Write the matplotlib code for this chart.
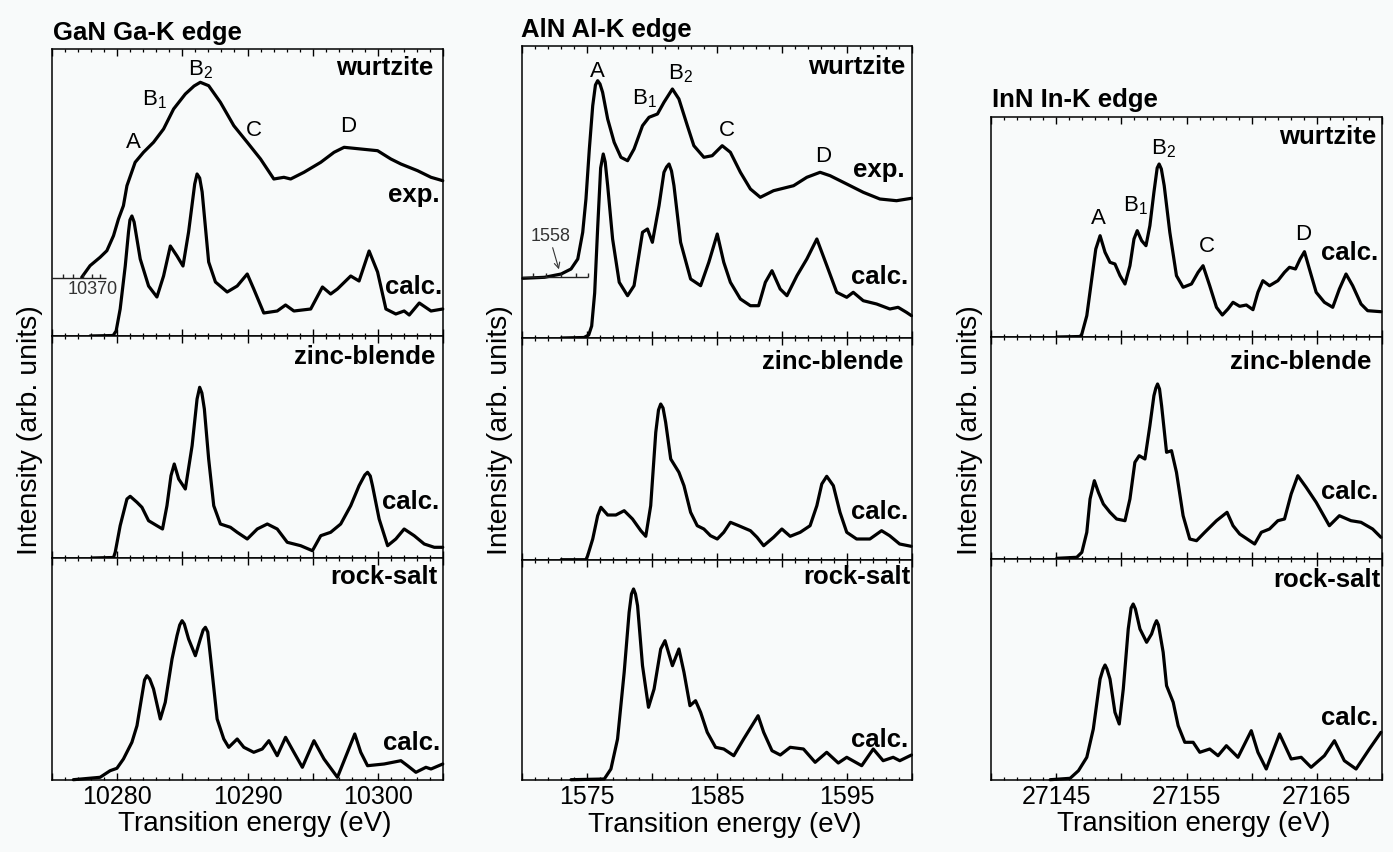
import numpy as np
import matplotlib
matplotlib.use("Agg")
import matplotlib.pyplot as plt

plt.rcParams['font.family'] = ['Liberation Sans', 'DejaVu Sans']
plt.rcParams['mathtext.fontset'] = 'custom'
plt.rcParams['mathtext.rm'] = 'Liberation Sans'
plt.rcParams['mathtext.it'] = 'Liberation Sans:italic'
plt.rcParams['mathtext.bf'] = 'Liberation Sans:bold'

# ---------------- data (energies in eV, intensities in arb. units) ----------------
# GaN Ga-K edge
gan_wz_exp_e = [10277.28, 10277.92, 10278.69, 10279.21, 10279.72, 10280.10, 10280.48, 10280.75,
                10281.38, 10282.02, 10282.79, 10283.56, 10284.33, 10285.23, 10285.90, 10286.38,
                10287.02, 10287.92, 10288.95, 10289.98, 10291.00, 10292.02, 10292.79, 10293.31,
                10294.33, 10295.62, 10296.64, 10297.41, 10298.69, 10299.98, 10301.00, 10301.77,
                10303.05, 10304.08, 10304.98]
gan_wz_exp_i = [58.7, 70.3, 78.7, 85.3, 100.3, 117, 130.3, 150.3,
                173.7, 183.7, 193.7, 207, 227, 242, 250, 253.7,
                250.3, 233.7, 210.3, 193.7, 177, 157, 158.7, 157,
                163.7, 173.7, 183.7, 188.7, 187, 185.3, 177, 172,
                165.3, 158.7, 155.3]
gan_wz_calc_e = [10277.92, 10279.69, 10279.92, 10280.23, 10280.62, 10280.87, 10280.98, 10281.13,
                 10281.30, 10281.77, 10282.41, 10283.05, 10283.56, 10284.08, 10284.59, 10285.05,
                 10285.48, 10285.95, 10286.13, 10286.33, 10286.52, 10287.02, 10287.54, 10288.44,
                 10289.21, 10289.98, 10290.48, 10291.25, 10292.28, 10292.92, 10293.56, 10294.85,
                 10295.75, 10296.38, 10296.90, 10297.92, 10298.56, 10299.33, 10299.98, 10300.62,
                 10301.38, 10302.02, 10302.41, 10303.18, 10304.08, 10304.98]
gan_wz_calc_i = [0, 0.5, 5, 27, 70, 104, 116, 120,
                 114, 77, 50, 39, 60, 90, 80, 70,
                 104, 152, 162, 158, 144, 74, 54, 44,
                 50, 62, 47, 23, 25, 31, 25, 27,
                 49, 42, 47, 60, 55, 85, 64, 27,
                 22, 25, 21, 33, 25, 27]
gan_zb_e = [10278.05, 10279.72, 10279.85, 10280.23, 10280.75, 10281.00, 10281.52, 10281.90,
            10282.41, 10283.05, 10283.48, 10283.82, 10284.13, 10284.38, 10284.72, 10285.23,
            10285.75, 10286.13, 10286.33, 10286.50, 10286.69, 10287.02, 10287.41, 10287.92,
            10288.69, 10289.21, 10289.98, 10290.75, 10291.52, 10292.28, 10293.05, 10294.08,
            10294.98, 10295.62, 10296.38, 10297.15, 10297.92, 10298.56, 10299.00, 10299.21,
            10299.42, 10299.59, 10300.10, 10300.75, 10301.38, 10302.02, 10302.79, 10303.56,
            10304.33, 10304.98]
gan_zb_i = [0, 0.5, 5.7, 32.3, 59, 61.7, 55.7, 50.7,
            37.3, 32.3, 29, 52.3, 82.3, 94, 79, 69,
            112.3, 159, 170.7, 165, 149, 99, 52.3, 34,
            30.7, 25.7, 19, 29, 34, 29, 15.7, 12.3,
            7.3, 22.3, 25.7, 34, 52.3, 72.3, 83, 85.7,
            82, 72.3, 39, 12.3, 19, 29, 22.3, 14,
            10.7, 10.7]
gan_rs_e = [10276.64, 10278.69, 10279.46, 10279.98, 10280.48, 10281.13, 10281.52, 10281.90,
            10282.10, 10282.28, 10282.50, 10282.79, 10283.31, 10283.69, 10284.21, 10284.59,
            10284.80, 10284.98, 10285.15, 10285.48, 10286.00, 10286.38, 10286.60, 10286.77,
            10286.95, 10287.15, 10287.67, 10288.18, 10288.56, 10289.21, 10289.72, 10290.48,
            10291.13, 10291.64, 10292.28, 10292.92, 10293.56, 10294.21, 10295.10, 10295.87,
            10296.90, 10297.67, 10298.23, 10298.69, 10299.21, 10300.48, 10301.77, 10302.28,
            10302.92, 10303.69, 10304.08, 10304.98]
gan_rs_i = [0.3, 2.7, 9.3, 11.7, 21, 37.7, 54.3, 84.3,
            100, 104.3, 101, 91, 61, 77.7, 121, 144.3,
            155, 159.3, 156, 141, 124.3, 141, 150, 152.7,
            148, 124.3, 61, 41, 32.7, 41, 32.7, 27.7,
            31, 39.3, 24.3, 42.7, 27.7, 12.7, 39.3, 21,
            2.7, 27.7, 46, 27.7, 14.3, 16, 19.3, 14.3,
            7.7, 12.7, 11, 16]

# AlN Al-K edge
aln_wz_exp_e = [1570.07, 1571.73, 1573.01, 1573.77, 1574.29, 1574.67, 1574.92, 1575.18, 1575.44,
                1575.65, 1575.82, 1576.00, 1576.20, 1576.59, 1577.09, 1577.61, 1578.12, 1578.62,
                1579.27, 1579.77, 1580.42, 1580.92, 1581.57, 1582.07, 1582.72, 1583.22, 1583.99,
                1584.63, 1585.40, 1586.03, 1586.80, 1587.57, 1588.33, 1589.35, 1590.89, 1591.91,
                1592.93, 1593.70, 1594.98, 1596.25, 1597.53, 1598.81, 1599.96]
aln_wz_exp_i = [59.7, 60.7, 64, 69, 79, 105.7, 139, 189, 232.3,
                253, 257.3, 254, 245.7, 219, 195.7, 180.7, 177.3, 189,
                212.3, 220.7, 224, 235.7, 249, 239, 212.3, 192.3, 180.7,
                182.3, 192.3, 185.7, 165.7, 149, 140.7, 147.3, 152.3, 160.7,
                165.7, 162.3, 154, 145.7, 139, 137.3, 139.7]
aln_wz_calc_e = [1573.01, 1574.77, 1575.13, 1575.36, 1575.59, 1575.82, 1576.05, 1576.25,
                 1576.40, 1576.59, 1576.97, 1577.48, 1578.12, 1578.62, 1579.27, 1579.65,
                 1580.03, 1580.54, 1580.92, 1581.12, 1581.31, 1581.50, 1581.69, 1582.20,
                 1582.97, 1583.74, 1584.37, 1585.02, 1585.52, 1586.03, 1586.80, 1587.57,
                 1588.20, 1588.72, 1589.23, 1589.86, 1590.38, 1591.15, 1591.91, 1592.68,
                 1593.45, 1594.21, 1594.98, 1595.48, 1596.25, 1597.28, 1598.30, 1598.93,
                 1599.57, 1599.96]
aln_wz_calc_i = [0, 0.5, 3, 12, 45, 110, 170, 184,
                 176, 152.3, 99, 55.7, 42.3, 52.3, 105.7, 109,
                 95.7, 132.3, 165.7, 171, 174, 167, 152.3, 95.7,
                 59, 52.3, 75.7, 104, 75.7, 55.7, 39, 32.3,
                 32.3, 55.7, 67.3, 49, 42.3, 62.3, 79, 99,
                 72.3, 45.7, 40.7, 45.7, 37.3, 34, 29, 30.7,
                 25.7, 22.3]
aln_zb_e = [1573.01, 1574.92, 1575.05, 1575.44, 1575.82, 1576.07, 1576.59, 1577.22, 1577.86,
            1578.50, 1579.14, 1579.52, 1579.90, 1580.29, 1580.50, 1580.67, 1580.85, 1581.05,
            1581.44, 1582.07, 1582.46, 1582.97, 1583.48, 1583.99, 1584.50, 1585.02, 1585.52,
            1586.03, 1586.67, 1587.57, 1588.08, 1588.59, 1589.35, 1589.99, 1590.63, 1591.40,
            1592.16, 1592.68, 1593.06, 1593.44, 1593.95, 1594.46, 1594.98, 1595.74, 1596.76,
            1597.66, 1598.28, 1599.05, 1599.94]
aln_zb_i = [0.3, 0.3, 4.3, 21, 44.3, 52.7, 45, 45, 49.3,
            41, 29.3, 23.7, 54.3, 127.7, 150, 156, 152, 137.7,
            101, 87.7, 74.3, 47.7, 34.3, 31, 24.3, 21, 27.7,
            37.7, 34.3, 29.3, 22.7, 14.3, 22.7, 31, 23.7, 27.7,
            34.3, 54.3, 76, 83.7, 74.3, 47.7, 27.7, 21, 21,
            29.3, 24.3, 16, 13.7]
aln_rs_e = [1573.77, 1576.33, 1576.84, 1577.35, 1577.86, 1578.24, 1578.42, 1578.58, 1578.73,
            1578.89, 1579.27, 1579.73, 1580.16, 1580.67, 1581.00, 1581.57, 1582.07, 1582.46,
            1582.92, 1583.35, 1583.74, 1584.25, 1584.89, 1585.52, 1586.29, 1587.05, 1588.16,
            1588.59, 1589.23, 1589.87, 1590.63, 1591.65, 1592.55, 1593.44, 1594.33, 1594.98,
            1596.13, 1597.02, 1597.78, 1598.55, 1599.06, 1599.96]
aln_rs_i = [0.3, 1, 11, 41, 107.7, 167.7, 186, 191, 186,
            174.3, 114.3, 72.7, 91, 131, 139.3, 114.3, 131, 107.7,
            74.3, 79.3, 67.7, 47.7, 32.7, 31, 24.3, 41, 64.3,
            47.7, 29.3, 25, 32.7, 31, 17.7, 27.7, 17, 22.7,
            14.3, 31, 19.3, 22.7, 19.3, 25]

# InN In-K edge
inn_wz_e = [27145.05, 27146.84, 27146.97, 27147.35, 27147.73, 27148.04, 27148.37, 27148.75,
            27149.13, 27149.51, 27149.90, 27150.28, 27150.66, 27150.97, 27151.22, 27151.56,
            27151.89, 27152.19, 27152.50, 27152.75, 27152.90, 27153.07, 27153.29, 27153.72,
            27154.23, 27154.74, 27155.38, 27155.89, 27156.27, 27156.78, 27157.30, 27157.75,
            27158.18, 27158.57, 27159.08, 27159.59, 27160.10, 27160.48, 27160.86, 27161.37,
            27162.01, 27162.52, 27162.90, 27163.36, 27163.72, 27164.05, 27164.43, 27164.95,
            27165.58, 27166.22, 27166.73, 27167.24, 27167.75, 27168.39, 27168.90, 27169.92]
inn_wz_i = [0, 0.5, 3, 21.3, 58, 88, 101.3, 84.7,
            74.7, 73, 61.3, 53, 71.3, 98, 106.3, 96.3,
            91.3, 111.3, 144.7, 169, 173, 168, 151.3, 104.7,
            61.3, 49.7, 53, 64.7, 71.3, 51.3, 29.7, 22,
            28, 34.7, 30.7, 32, 27.3, 44.7, 56.3, 51.3,
            56.3, 64.7, 69.7, 68, 78, 85.3, 68, 44.7,
            34.7, 29.7, 48, 63, 51.3, 33, 26.3, 25.3]
inn_zb_e = [27145.05, 27146.58, 27146.97, 27147.35, 27147.60, 27147.93, 27148.24, 27148.62,
            27149.13, 27149.64, 27150.28, 27150.66, 27151.04, 27151.37, 27151.81, 27152.19,
            27152.50, 27152.65, 27152.78, 27152.93, 27153.09, 27153.47, 27153.85, 27154.23,
            27154.74, 27155.25, 27155.77, 27156.40, 27157.30, 27158.11, 27158.57, 27159.08,
            27160.23, 27160.74, 27161.37, 27162.01, 27162.52, 27163.03, 27163.54, 27164.18,
            27164.95, 27165.96, 27166.73, 27167.62, 27168.39, 27169.28, 27169.92]
inn_zb_i = [0.7, 1.7, 6.7, 26.7, 60, 78.3, 66.7, 55,
            46.7, 40, 38.3, 60, 96.7, 103.3, 100, 133.3,
            163.3, 171, 175, 170, 153.3, 106.7, 108.3, 86.7,
            43.3, 20, 18.3, 26.7, 38.3, 46.7, 33.3, 25,
            15, 26.7, 30, 38.3, 40, 65, 83.3, 71.7,
            56.7, 33.3, 43.3, 38.3, 36.7, 30, 21.7]
inn_rs_e = [27144.54, 27146.07, 27146.71, 27147.35, 27147.85, 27148.37, 27148.60, 27148.75,
            27148.90, 27149.13, 27149.51, 27149.84, 27150.15, 27150.53, 27150.75, 27150.91,
            27151.08, 27151.43, 27151.94, 27152.32, 27152.55, 27152.70, 27152.85, 27153.21,
            27153.47, 27153.98, 27154.36, 27154.87, 27155.51, 27156.02, 27156.78, 27157.42,
            27158.06, 27158.95, 27159.97, 27160.48, 27161.12, 27162.14, 27163.03, 27163.80,
            27164.56, 27165.58, 27166.35, 27167.11, 27168.01, 27169.03, 27169.92]
inn_rs_i = [0.3, 1.7, 9.3, 22.7, 51, 101, 111, 115,
            111, 101, 67.7, 56, 91, 151, 172, 176,
            171, 151, 137.7, 146, 155, 159.3, 155, 127.7,
            94.3, 77.7, 54.3, 37.7, 37.7, 27.7, 31, 24.3,
            34.3, 22.7, 49.3, 27.7, 11, 46, 21, 22.7,
            12.7, 24.3, 39.3, 19.3, 11, 31, 47.7]

# axis ranges and tick labels
gan_xlim = (10275, 10305)
aln_xlim = (1570, 1600)
inn_xlim = (27140, 27170)
gan_ticklabels = [10280, 10290, 10300]
aln_ticklabels = [1575, 1585, 1595]
inn_ticklabels = [27145, 27155, 27165]

# peak annotations (label, energy, intensity)
gan_peaks = [("A", 10281.23, 194), (r"$\mathregular{B_1}$", 10282.85, 237),
             (r"$\mathregular{B_2}$", 10286.41, 267), ("C", 10290.46, 207), ("D", 10297.69, 210)]
aln_peaks = [("A", 1575.82, 267.3), (r"$\mathregular{B_1}$", 1579.44, 240),
             (r"$\mathregular{B_2}$", 1582.2, 265), ("C", 1585.78, 209), ("D", 1593.18, 182.3)]
inn_peaks = [("A", 27148.24, 119.7), (r"$\mathregular{B_1}$", 27151.1, 132.3),
             (r"$\mathregular{B_2}$", 27153.26, 189), ("C", 27156.53, 91.3), ("D", 27163.92, 103)]

# experimental energy-scale insets
gan_inset_line = (10275.0, 10279.15, 58)
gan_inset_ticks = [10275.85, 10276.62, 10277.38, 10278.08, 10278.69]
aln_inset_line = (1570.0, 1575.05, 60.7)
aln_inset_ticks = [1570.84, 1571.86, 1573.01, 1574.16, 1575.05]

# ---------------- figure ----------------
W, H = 1393, 853
BG = '#f8fafa'
fig = plt.figure(figsize=(W / 100, H / 100), dpi=100, facecolor=BG)

LW = 2.3


def make_axes(left, right, top, bottom, ylim_top, xlim, labels, show_labels):
    ax = fig.add_axes([left / W, 1 - bottom / H, (right - left) / W, (bottom - top) / H])
    ax.set_facecolor(BG)
    ax.set_xlim(*xlim)
    ax.set_ylim(0, ylim_top)
    ticks = np.arange(xlim[0], xlim[1] + 1, 5)
    ax.set_xticks(ticks)
    if show_labels:
        ax.set_xticklabels([str(t) if t in labels else '' for t in ticks])
    else:
        ax.set_xticklabels([])
    ax.set_xticks(np.arange(xlim[0], xlim[1] + 1, 1), minor=True)
    ax.set_yticks([])
    ax.tick_params(axis='x', which='major', direction='in', top=True, bottom=True,
                   length=5, width=1.0, labelsize=18, pad=3)
    ax.tick_params(axis='x', which='minor', direction='in', top=True, bottom=True,
                   length=2.5, width=0.9)
    for s in ax.spines.values():
        s.set_linewidth(1.1)
    return ax


def label(ax, txt, xf, yf, bold=True, size=18.5):
    ax.text(xf, yf, txt, transform=ax.transAxes, ha='right', va='center',
            fontsize=size, fontweight='bold' if bold else 'normal')


def curve(ax, e, i):
    ax.plot(e, i, color='black', lw=LW, solid_joinstyle='round', solid_capstyle='round',
            clip_on=False)


# column geometry in pixels: left, right, row boundaries
cols = {
    'gan': (52, 443, [50, 337, 559, 781]),
    'aln': (522, 912, [47, 339, 561, 781]),
    'inn': (991, 1382, [118, 338, 560, 781]),
}

axes = {}
for key, xlim, labels in [('gan', gan_xlim, gan_ticklabels),
                          ('aln', aln_xlim, aln_ticklabels),
                          ('inn', inn_xlim, inn_ticklabels)]:
    l, r, rows = cols[key]
    axs = []
    for k in range(3):
        axs.append(make_axes(l, r, rows[k], rows[k + 1], rows[k + 1] - rows[k], xlim, labels, k == 2))
    axes[key] = axs

# ----- GaN -----
a_wz, a_zb, a_rs = axes['gan']
curve(a_wz, gan_wz_exp_e, gan_wz_exp_i)
curve(a_wz, gan_wz_calc_e, gan_wz_calc_i)
curve(a_zb, gan_zb_e, gan_zb_i)
curve(a_rs, gan_rs_e, gan_rs_i)
a_wz.hlines(gan_inset_line[2], gan_inset_line[0], gan_inset_line[1], color='#222', lw=1.0)
a_wz.vlines(gan_inset_ticks, gan_inset_line[2], gan_inset_line[2] + 4, color='#222', lw=1.0)
a_wz.text(10278.12, 48, "10370", fontsize=13, color='#333', ha='center', va='center')
for t, e, i in gan_peaks:
    a_wz.text(e, i, t, fontsize=16, ha='center', va='center')
label(a_wz, "wurtzite", 0.974, 0.937)
label(a_wz, "exp.", 0.992, 0.495)
label(a_wz, "calc.", 0.997, 0.174)
label(a_zb, "zinc-blende", 0.980, 0.911)
label(a_zb, "calc.", 0.990, 0.258)
label(a_rs, "rock-salt", 0.987, 0.920)
label(a_rs, "calc.", 0.992, 0.170)

# ----- AlN -----
b_wz, b_zb, b_rs = axes['aln']
curve(b_wz, aln_wz_exp_e, aln_wz_exp_i)
curve(b_wz, aln_wz_calc_e, aln_wz_calc_i)
curve(b_zb, aln_zb_e, aln_zb_i)
curve(b_rs, aln_rs_e, aln_rs_i)
b_wz.hlines(aln_inset_line[2], aln_inset_line[0], aln_inset_line[1], color='#222', lw=1.0)
b_wz.vlines(aln_inset_ticks, aln_inset_line[2], aln_inset_line[2] + 4, color='#222', lw=1.0)
b_wz.text(1572.24, 102.3, "1558", fontsize=13, color='#333', ha='center', va='center')
b_wz.annotate('', xy=(1572.9, 66), xytext=(1572.3, 93),
              arrowprops=dict(arrowstyle='->', lw=0.8, color='#333'))
for t, e, i in aln_peaks:
    b_wz.text(e, i, t, fontsize=16, ha='center', va='center')
label(b_wz, "wurtzite", 0.982, 0.933)
label(b_wz, "exp.", 0.982, 0.579)
label(b_wz, "calc.", 0.990, 0.213)
label(b_zb, "zinc-blende", 0.978, 0.898)
label(b_zb, "calc.", 0.990, 0.222)
label(b_rs, "rock-salt", 0.995, 0.929)
label(b_rs, "calc.", 0.990, 0.186)

# ----- InN -----
c_wz, c_zb, c_rs = axes['inn']
curve(c_wz, inn_wz_e, inn_wz_i)
curve(c_zb, inn_zb_e, inn_zb_i)
curve(c_rs, inn_rs_e, inn_rs_i)
for t, e, i in inn_peaks:
    c_wz.text(e, i, t, fontsize=16, ha='center', va='center')
label(c_wz, "wurtzite", 0.986, 0.915)
label(c_wz, "calc.", 0.990, 0.385)
label(c_zb, "zinc-blende", 0.974, 0.893)
label(c_zb, "calc.", 0.990, 0.308)
label(c_rs, "rock-salt", 0.995, 0.909)
label(c_rs, "calc.", 0.990, 0.284)

# titles
fig.text(53 / W, 1 - 33 / H, "GaN Ga-K edge", fontsize=18.5, fontweight='bold', ha='left', va='center')
fig.text(521 / W, 1 - 30 / H, "AlN Al-K edge", fontsize=18.5, fontweight='bold', ha='left', va='center')
fig.text(992 / W, 1 - 100 / H, "InN In-K edge", fontsize=18.5, fontweight='bold', ha='left', va='center')

# axis labels
for xc in [30, 500, 970]:
    fig.text(xc / W, 1 - 430 / H, "Intensity (arb. units)", rotation=90, fontsize=20.5,
             ha='center', va='center')
for xc, yc in [(255, 824), (725, 825), (1194, 824)]:
    fig.text(xc / W, 1 - yc / H, "Transition energy (eV)", fontsize=20, ha='center', va='center')

fig.savefig("out.png", dpi=100, facecolor=BG)
